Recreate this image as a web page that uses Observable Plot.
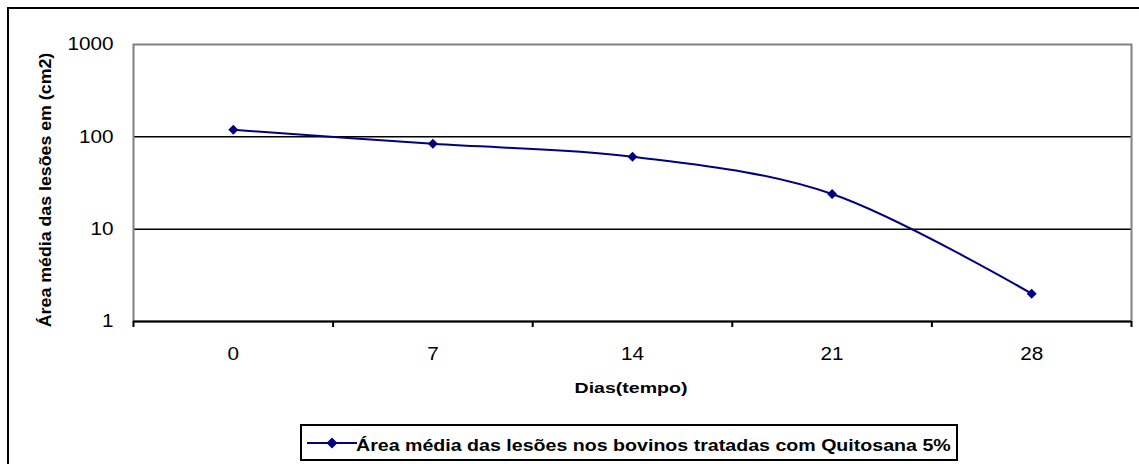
<!DOCTYPE html>
<html>
<head>
<meta charset="utf-8">
<script src="https://cdn.jsdelivr.net/npm/d3@7"></script>
<script src="https://cdn.jsdelivr.net/npm/@observablehq/plot@0.6"></script>
<style>
  html, body { margin: 0; padding: 0; background: #fff; }
  #wrap { position: relative; width: 1139px; height: 464px; overflow: hidden; background: #fff;
          font-family: "Liberation Sans", Arial, sans-serif; color: #000; }
  #wrap svg.chart { position: absolute; left: 0; top: 0; }
  .outer { position: absolute; left: 7px; top: 7px; width: 1300px; height: 600px;
           border-left: 2px solid #000; border-top: 2px solid #000; }
  .xtitle { position: absolute; left: 630.5px; top: 380px; font-weight: bold; font-size: 15.5px;
            line-height: 1; white-space: nowrap; transform: translateX(-50%) scaleX(1.26); }
  .ytitle { position: absolute; left: 46px; top: 190px; font-weight: bold; font-size: 16px;
            line-height: 1; white-space: nowrap;
            transform: translate(-50%, -50%) rotate(-90deg) scaleX(1.11); }
  .legend { position: absolute; left: 300px; top: 424px; width: 658px; height: 37px;
            box-sizing: border-box; border: 2px solid #000; background: #fff; }
  .legend svg { position: absolute; left: 3px; top: 0; }
  .legend .lt { position: absolute; left: 54px; top: 11.5px; font-weight: bold; font-size: 16px;
                line-height: 1; white-space: nowrap; transform-origin: 0 50%; transform: scaleX(1.225); }
</style>
</head>
<body>
<div id="wrap"></div>
<script>
// ---- data ----
const days = [0, 7, 14, 21, 28];
const area = [119, 84, 61, 24, 2];
const yTicks = [1, 10, 100, 1000];
const xTitle = "Dias(tempo)";
const yTitle = "Área média das lesões em (cm2)";
const seriesName = "Área média das lesões nos bovinos tratadas com Quitosana 5%";

const data = days.map((d, i) => ({day: d, area: area[i]}));
const step = 7;
const bounds = days.map(d => d - step / 2).concat([days[days.length - 1] + step / 2]);

const navy = "#000080";
const font = "'Liberation Sans', Arial, sans-serif";

const chart = Plot.plot({
  width: 1139,
  height: 464,
  marginLeft: 133,
  marginRight: 8,
  marginTop: 44,
  marginBottom: 143,
  style: {fontFamily: font, fontSize: "18px", color: "#000", background: "transparent", overflow: "visible"},
  x: {type: "linear", domain: [bounds[0], bounds[bounds.length - 1]]},
  y: {type: "log", domain: [1, 1000]},
  marks: [
    Plot.ruleY([10, 100], {stroke: "#000", strokeWidth: 1.5}),
    Plot.frame({stroke: "#808080", strokeWidth: 2}),
    Plot.ruleY([1], {stroke: "#000", strokeWidth: 2}),
    Plot.axisX(bounds, {tickSize: 6, stroke: "#000", strokeWidth: 2, tickFormat: () => "", label: null}),
    Plot.axisX(days, {tickSize: 0, tickPadding: 26, fontSize: 18, tickFormat: d => String(d), label: null}),
    Plot.axisY(yTicks, {tickSize: 0, tickPadding: 20, fontSize: 18, tickFormat: d => String(d), label: null}),
    Plot.line(data, {x: "day", y: "area", stroke: navy, strokeWidth: 2, curve: "cardinal"}),
    Plot.dot(data, {x: "day", y: "area", symbol: "diamond2", r: 4.5, fill: navy, stroke: "none"})
  ]
});
chart.classList.add("chart");

const wrap = document.getElementById("wrap");
const outer = document.createElement("div");
outer.className = "outer";
wrap.appendChild(outer);
wrap.appendChild(chart);

// stretch tick labels horizontally like the reference
chart.querySelectorAll("text").forEach(t => {
  if (!t.textContent) return;
  const len = t.getComputedTextLength();
  t.setAttribute("textLength", (len * 1.15).toFixed(2));
  t.setAttribute("lengthAdjust", "spacingAndGlyphs");
});

const xt = document.createElement("div");
xt.className = "xtitle";
xt.textContent = xTitle;
wrap.appendChild(xt);

const yt = document.createElement("div");
yt.className = "ytitle";
yt.textContent = yTitle;
wrap.appendChild(yt);

const lg = document.createElement("div");
lg.className = "legend";
lg.innerHTML = `<svg width="52" height="33">
  <line x1="2" x2="52" y1="17" y2="17" stroke="${navy}" stroke-width="2"></line>
  <path d="M27,11.5L32.5,17L27,22.5L21.5,17Z" fill="${navy}"></path>
</svg>`;
const lt = document.createElement("div");
lt.className = "lt";
lt.textContent = seriesName;
lg.appendChild(lt);
wrap.appendChild(lg);
</script>
</body>
</html>
